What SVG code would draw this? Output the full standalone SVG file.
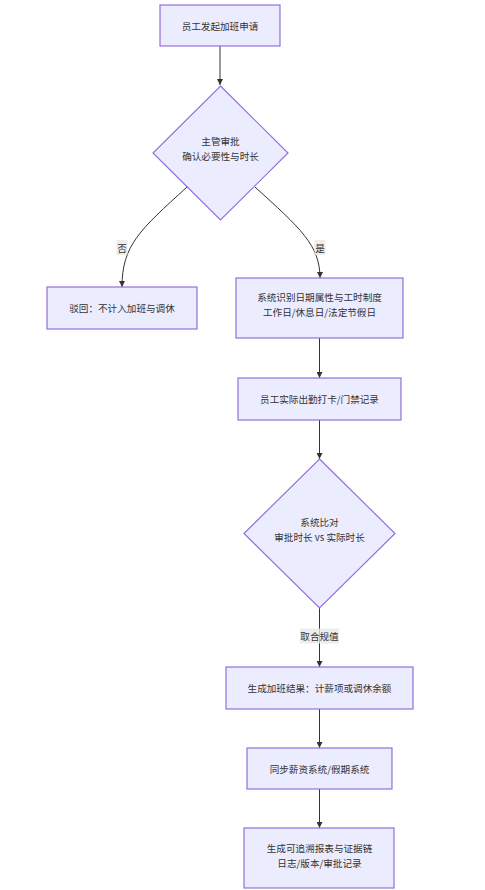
<svg xmlns="http://www.w3.org/2000/svg" width="485" height="890" viewBox="0 0 485 890">
<style>
.node{fill:#ECECFF;stroke:#9370DB;stroke-width:1.2}
.t{font-family:"Noto Sans CJK SC","Noto Sans",sans-serif;font-size:9.6px;fill:#333;text-anchor:middle;dominant-baseline:central}
.e{fill:none;stroke:#333;stroke-width:1;marker-end:url(#arr)}
.lb{fill:#e8e8e8;opacity:0.8}
</style>
<defs>
<marker id="arr" viewBox="0 0 10 10" refX="10" refY="5" markerWidth="6" markerHeight="6" orient="auto" markerUnits="userSpaceOnUse">
<path d="M0,0 L10,5 L0,10 z" fill="#333"/>
</marker>
</defs>
<g id="edges">
<path class="e" d="M220,46 L220,85"/>
<path class="e" d="M187,187 C140,230 122,245 122,287"/>
<path class="e" d="M255,187 C300,228 320,245 320,278"/>
<path class="e" d="M319.5,338 L319.5,378"/>
<path class="e" d="M319.5,420 L319.5,459"/>
<path class="e" d="M319.5,608 L319.5,667"/>
<path class="e" d="M319.5,709 L319.5,748"/>
<path class="e" d="M319.5,789 L319.5,828"/>
<g id="edge-labels">
<rect class="lb" x="116.5" y="240" width="11" height="15"/>
<text class="t" x="122" y="247.5">否</text>
<rect class="lb" x="314.5" y="240" width="11" height="15"/>
<text class="t" x="320" y="247.5">是</text>
<rect class="lb" x="300" y="628.5" width="39" height="15"/>
<text class="t" x="319.5" y="636">取合规值</text>
</g>
</g>
<g id="n1"><rect class="node" x="160" y="5" width="120" height="41"/><text class="t" x="220" y="25.5">员工发起加班申请</text></g>
<g id="n2"><polygon class="node" points="220.5,86 288,153 220.5,220 153,153"/><text class="t" x="220.5" y="141">主管审批</text><text class="t" x="220.5" y="156">确认必要性与时长</text></g>
<g id="n3"><rect class="node" x="47" y="287" width="150" height="42"/><text class="t" x="122" y="308">驳回：不计入加班与调休</text></g>
<g id="n4"><rect class="node" x="236" y="278" width="167" height="60"/><text class="t" x="319.5" y="297">系统识别日期属性与工时制度</text><text class="t" x="319.5" y="311.5">工作日/休息日/法定节假日</text></g>
<g id="n5"><rect class="node" x="238" y="378" width="163" height="42"/><text class="t" x="319.5" y="399">员工实际出勤打卡/门禁记录</text></g>
<g id="n6"><polygon class="node" points="319.5,459 395,533.5 319.5,608 244,533.5"/><text class="t" x="319.5" y="522">系统比对</text><text class="t" x="319.5" y="537">审批时长 vs 实际时长</text></g>
<g id="n7"><rect class="node" x="226" y="667" width="187" height="42"/><text class="t" x="319.5" y="688">生成加班结果：计薪项或调休余额</text></g>
<g id="n8"><rect class="node" x="247" y="748" width="145" height="41"/><text class="t" x="319.5" y="768.5">同步薪资系统/假期系统</text></g>
<g id="n9"><rect class="node" x="244" y="828" width="150" height="60"/><text class="t" x="319.5" y="848">生成可追溯报表与证据链</text><text class="t" x="319.5" y="863">日志/版本/审批记录</text></g>
</svg>
